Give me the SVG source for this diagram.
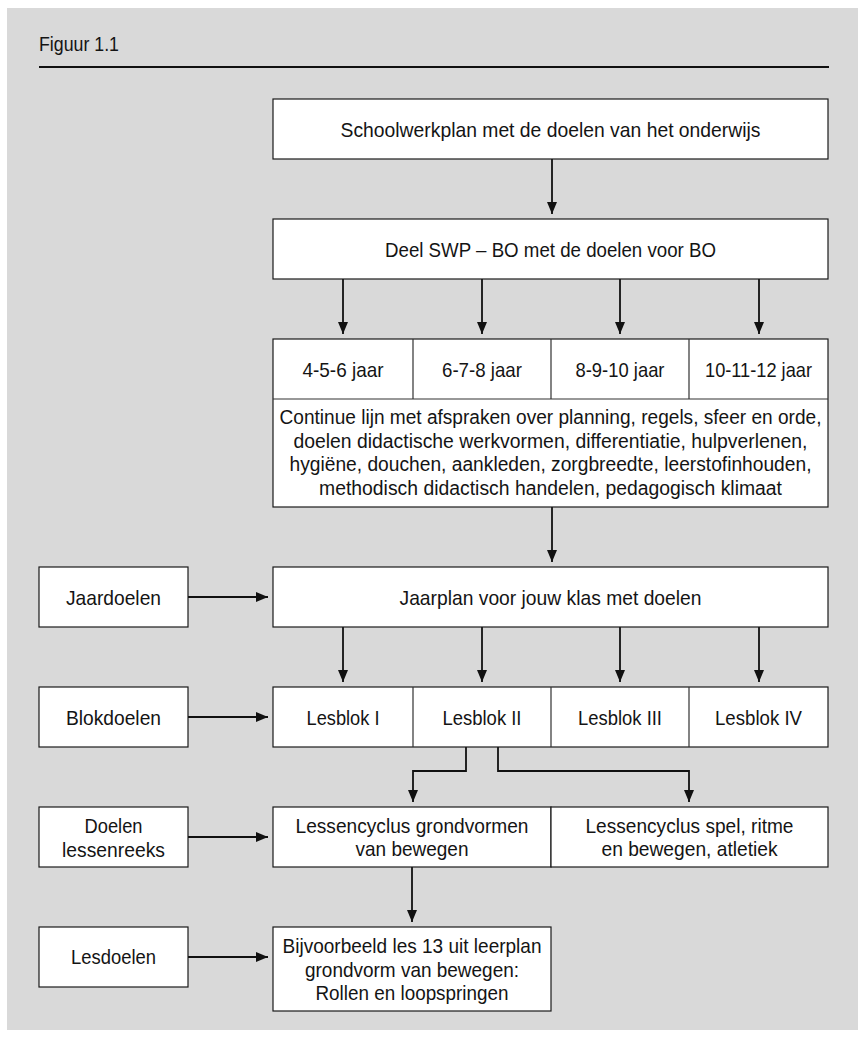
<svg xmlns="http://www.w3.org/2000/svg" width="861" height="1043" viewBox="0 0 861 1043">
<style>
.bx{fill:#fff;stroke:#1a1a1a;stroke-width:1.2}
.dv{stroke:#333;stroke-width:1.2;fill:none}
.t{font-family:"Liberation Sans",Arial,sans-serif;font-size:21px;fill:#141414;text-anchor:middle}
.p{font-size:19.5px}
.c{stroke:#111;stroke-width:1.8;fill:none}
.a{marker-end:url(#ah)}
</style>
<defs>
<marker id="ah" markerUnits="userSpaceOnUse" markerWidth="12" markerHeight="10" refX="12" refY="5" orient="auto">
<path d="M0,0 L12,5 L0,10 z" fill="#111"/>
</marker>
</defs>
<rect x="0" y="0" width="861" height="1043" fill="#fff"/>
<rect x="7" y="8" width="851" height="1022" fill="#d9d9d9"/>
<text x="39" y="51" class="t" style="text-anchor:start" textLength="80" lengthAdjust="spacingAndGlyphs">Figuur 1.1</text>
<line x1="39" y1="67" x2="829" y2="67" stroke="#111" stroke-width="2"/>

<g id="connectors">
<path class="c a" d="M552,159 V214"/>
<path class="c a" d="M343,279 V334"/>
<path class="c a" d="M482,279 V334"/>
<path class="c a" d="M620,279 V334"/>
<path class="c a" d="M759,279 V334"/>
<path class="c a" d="M552,507 V562"/>
<path class="c a" d="M188,597 H268"/>
<path class="c a" d="M343,627 V682"/>
<path class="c a" d="M482,627 V682"/>
<path class="c a" d="M620,627 V682"/>
<path class="c a" d="M759,627 V682"/>
<path class="c a" d="M188,717 H268"/>
<path class="c a" d="M466,747 V771 H413 V802"/>
<path class="c a" d="M498,747 V771 H689 V802"/>
<path class="c a" d="M188,837 H268"/>
<path class="c a" d="M412,867 V922"/>
<path class="c a" d="M188,957 H268"/>
</g>

<g id="schoolwerkplan">
<rect class="bx" x="273" y="99" width="555" height="60"/>
<text class="t" x="550.5" y="137" textLength="420" lengthAdjust="spacingAndGlyphs">Schoolwerkplan met de doelen van het onderwijs</text>
</g>
<g id="deel-swp">
<rect class="bx" x="273" y="219" width="555" height="60"/>
<text class="t" x="550.5" y="257" textLength="331" lengthAdjust="spacingAndGlyphs">Deel SWP – BO met de doelen voor BO</text>
</g>
<g id="leeftijden">
<rect class="bx" x="273" y="339" width="555" height="168"/>
<path class="dv" d="M273,399 H828 M413,339 V399 M551,339 V399 M689,339 V399"/>
<text class="t" x="343" y="377" textLength="81" lengthAdjust="spacingAndGlyphs">4-5-6 jaar</text>
<text class="t" x="482" y="377" textLength="80" lengthAdjust="spacingAndGlyphs">6-7-8 jaar</text>
<text class="t" x="620" y="377" textLength="89" lengthAdjust="spacingAndGlyphs">8-9-10 jaar</text>
<text class="t" x="758.5" y="377" textLength="107" lengthAdjust="spacingAndGlyphs">10-11-12 jaar</text>
<text class="t p" x="550.5" y="424" textLength="542" lengthAdjust="spacingAndGlyphs">Continue lijn met afspraken over planning, regels, sfeer en orde,</text>
<text class="t p" x="550.5" y="447.5" textLength="514" lengthAdjust="spacingAndGlyphs">doelen didactische werkvormen, differentiatie, hulpverlenen,</text>
<text class="t p" x="550.5" y="471" textLength="522" lengthAdjust="spacingAndGlyphs">hygiëne, douchen, aankleden, zorgbreedte, leerstofinhouden,</text>
<text class="t p" x="550.5" y="494.5" textLength="463" lengthAdjust="spacingAndGlyphs">methodisch didactisch handelen, pedagogisch klimaat</text>
</g>
<g id="jaardoelen">
<rect class="bx" x="39" y="567" width="149" height="60"/>
<text class="t" x="113.5" y="605" textLength="95" lengthAdjust="spacingAndGlyphs">Jaardoelen</text>
</g>
<g id="jaarplan">
<rect class="bx" x="273" y="567" width="555" height="60"/>
<text class="t" x="550.5" y="605" textLength="302" lengthAdjust="spacingAndGlyphs">Jaarplan voor jouw klas met doelen</text>
</g>
<g id="blokdoelen">
<rect class="bx" x="39" y="687" width="149" height="60"/>
<text class="t" x="113.5" y="725" textLength="95" lengthAdjust="spacingAndGlyphs">Blokdoelen</text>
</g>
<g id="lesblokken">
<rect class="bx" x="273" y="687" width="555" height="60"/>
<path class="dv" d="M413,687 V747 M551,687 V747 M689,687 V747"/>
<text class="t" x="343" y="725" textLength="73" lengthAdjust="spacingAndGlyphs">Lesblok I</text>
<text class="t" x="482" y="725" textLength="79" lengthAdjust="spacingAndGlyphs">Lesblok II</text>
<text class="t" x="620" y="725" textLength="84" lengthAdjust="spacingAndGlyphs">Lesblok III</text>
<text class="t" x="758.5" y="725" textLength="87" lengthAdjust="spacingAndGlyphs">Lesblok IV</text>
</g>
<g id="doelen-lessenreeks">
<rect class="bx" x="39" y="807" width="149" height="60"/>
<text class="t" x="113.5" y="833" textLength="58" lengthAdjust="spacingAndGlyphs">Doelen</text>
<text class="t" x="113.5" y="857" textLength="103" lengthAdjust="spacingAndGlyphs">lessenreeks</text>
</g>
<g id="lessencyclus-grondvormen">
<rect class="bx" x="273" y="807" width="278" height="60"/>
<text class="t" x="412" y="833" textLength="233" lengthAdjust="spacingAndGlyphs">Lessencyclus grondvormen</text>
<text class="t" x="412" y="856" textLength="113" lengthAdjust="spacingAndGlyphs">van bewegen</text>
</g>
<g id="lessencyclus-spel">
<rect class="bx" x="551" y="807" width="277" height="60"/>
<text class="t" x="689.5" y="833" textLength="208" lengthAdjust="spacingAndGlyphs">Lessencyclus spel, ritme</text>
<text class="t" x="689.5" y="856" textLength="176" lengthAdjust="spacingAndGlyphs">en bewegen, atletiek</text>
</g>
<g id="lesdoelen">
<rect class="bx" x="39" y="927" width="149" height="60"/>
<text class="t" x="113.5" y="964" textLength="85" lengthAdjust="spacingAndGlyphs">Lesdoelen</text>
</g>
<g id="voorbeeld-les">
<rect class="bx" x="273" y="927" width="278" height="84"/>
<text class="t" x="412" y="953" textLength="259" lengthAdjust="spacingAndGlyphs">Bijvoorbeeld les 13 uit leerplan</text>
<text class="t" x="412" y="977" textLength="214" lengthAdjust="spacingAndGlyphs">grondvorm van bewegen:</text>
<text class="t" x="412" y="1000" textLength="193" lengthAdjust="spacingAndGlyphs">Rollen en loopspringen</text>
</g>
</svg>
